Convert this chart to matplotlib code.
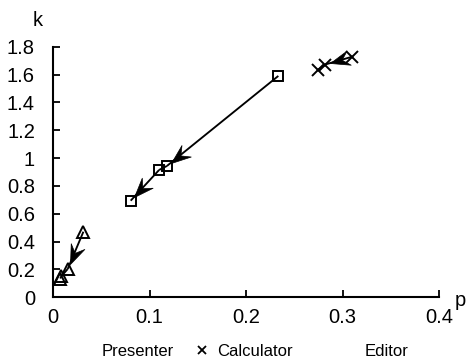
import numpy as np
import matplotlib
matplotlib.use("Agg")
import matplotlib.pyplot as plt
from matplotlib.lines import Line2D
from matplotlib.markers import MarkerStyle
from matplotlib.path import Path
from matplotlib.transforms import Affine2D

plt.rcParams['font.family'] = ['Liberation Sans', 'DejaVu Sans']

# Trajectories of each role in the (p, k) plane, in time order
presenter_p = [0.0315, 0.0152, 0.0085, 0.0075]
presenter_k = [0.471, 0.203, 0.150, 0.135]

calculator_p = [0.310, 0.282, 0.275]
calculator_k = [1.728, 1.672, 1.636]

editor_p = [0.2335, 0.118, 0.110, 0.0805]
editor_k = [1.590, 0.943, 0.915, 0.694]

x_ticks = [0, 0.1, 0.2, 0.3, 0.4]
x_tick_labels = ["0", "0.1", "0.2", "0.3", "0.4"]
y_ticks = [0, 0.2, 0.4, 0.6, 0.8, 1.0, 1.2, 1.4, 1.6, 1.8]
y_tick_labels = ["0", "0.2", "0.4", "0.6", "0.8", "1", "1.2", "1.4", "1.6", "1.8"]

series = [
    ("Presenter", presenter_p, presenter_k, dict(marker='^', markersize=9)),
    ("Calculator", calculator_p, calculator_k, dict(marker='x', markersize=9)),
    ("Editor", editor_p, editor_k, dict(marker='s', markersize=7.5)),
]

fig = plt.figure(figsize=(4.67, 3.6), dpi=100)
ax = fig.add_axes([53 / 467, 62.7 / 360, 386 / 467, 250.6 / 360])
ax.set_xlim(0, 0.4)
ax.set_ylim(0, 1.8)

# Notched ("stealth") arrowhead, tip at the origin pointing along +x
head_path = Path([(0, 0), (-1, 0.38), (-0.62, 0), (-1, -0.38), (0, 0)],
                 [Path.MOVETO, Path.LINETO, Path.LINETO, Path.LINETO, Path.CLOSEPOLY])
HEAD_LEN_PT = 14.0      # arrowhead length
TIP_GAP_PX = 5.5        # distance between arrow tip and the target marker centre
MIN_SEG_PX = 22.0       # shorter hops are drawn as plain connectors


def draw_arrow(x0, y0, x1, y1):
    ax.plot([x0, x1], [y0, y1], color='black', lw=1.35, zorder=2,
            solid_capstyle='butt')
    p0 = ax.transData.transform((x0, y0))
    p1 = ax.transData.transform((x1, y1))
    d = p1 - p0
    length = np.hypot(*d)
    if length < MIN_SEG_PX:
        return
    u = d / length
    tip = ax.transData.inverted().transform(p1 - u * TIP_GAP_PX)
    angle = np.degrees(np.arctan2(d[1], d[0]))
    head = MarkerStyle(head_path, transform=Affine2D().rotate_deg(angle))
    ax.plot([tip[0]], [tip[1]], linestyle='none', marker=head,
            markersize=2 * HEAD_LEN_PT, markerfacecolor='black',
            markeredgecolor='black', markeredgewidth=0.5, zorder=4)


for name, xs, ys, style in series:
    ax.plot(xs, ys, linestyle='none', color='black', markerfacecolor='none',
            markeredgecolor='black', markeredgewidth=1.4, zorder=3, **style)
    for i in range(len(xs) - 1):
        draw_arrow(xs[i], ys[i], xs[i + 1], ys[i + 1])

ax.set_xticks(x_ticks)
ax.set_xticklabels(x_tick_labels)
ax.set_yticks(y_ticks)
ax.set_yticklabels(y_tick_labels)

for side in ('top', 'right'):
    ax.spines[side].set_visible(False)
for side in ('left', 'bottom'):
    ax.spines[side].set_linewidth(1.5)

ax.tick_params(axis='both', direction='in', length=5, width=1.3,
               labelsize=14.5, colors='black')
ax.tick_params(axis='y', pad=13)
ax.tick_params(axis='x', pad=8)

fig.text(33 / 467, 1 - 26 / 360, 'k', fontsize=14.5, ha='left', va='baseline')
fig.text(455 / 467, 1 - 305.5 / 360, 'p', fontsize=14.5, ha='left', va='baseline')

# Legend row along the bottom edge
legend_y = 1 - 356 / 360
fig.text(101.7 / 467, legend_y, 'Presenter', fontsize=12, ha='left', va='baseline')
fig.add_artist(Line2D([201.7 / 467], [1 - 349.5 / 360], marker='x', markersize=6,
                      markeredgewidth=1.3, color='black', linestyle='none',
                      transform=fig.transFigure))
fig.text(216.7 / 467, legend_y, 'Calculator', fontsize=12, ha='left', va='baseline')
fig.text(365 / 467, legend_y, 'Editor', fontsize=12, ha='left', va='baseline')

fig.savefig('out.png', dpi=100, facecolor='white')
